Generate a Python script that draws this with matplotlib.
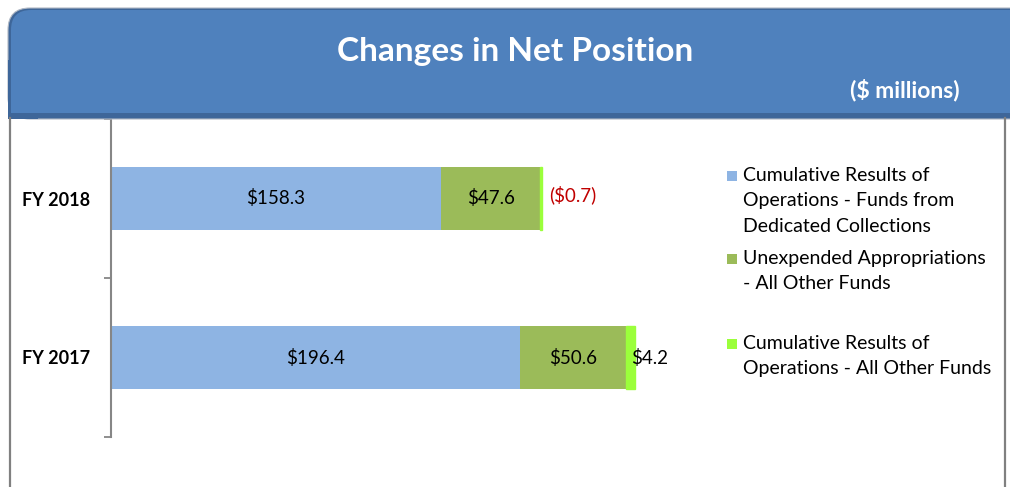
import matplotlib
matplotlib.use("Agg")
import matplotlib.pyplot as plt
from matplotlib.patches import FancyBboxPatch, Rectangle

plt.rcParams["font.family"] = ["Lato", "DejaVu Sans"]

# ---- data ($ millions) ----
years = ["FY 2018", "FY 2017"]
dedicated = [158.3, 196.4]        # cumulative results - dedicated collections
unexpended = [47.6, 50.6]         # unexpended appropriations - all other funds
other_funds = [-0.7, 4.2]         # cumulative results - all other funds
series_names = [
    "Cumulative Results of\nOperations - Funds from\nDedicated Collections",
    "Unexpended Appropriations\n- All Other Funds",
    "Cumulative Results of\nOperations - All Other Funds",
]
colors = ["#8EB4E3", "#9BBB59", "#9BFF3B"]

W, H = 1010, 487
fig = plt.figure(figsize=(W / 100, H / 100), dpi=100)

# ---- chart area ----
ax = fig.add_axes([111 / W, 1 - 437 / H, (700 - 111) / W, (437 - 119) / H])
ax.patch.set_alpha(0)
ypos = [1, 0]

left = [0.0, 0.0]
ax.barh(ypos, dedicated, height=0.4, color=colors[0], left=left)
left = [a + b for a, b in zip(left, dedicated)]
ax.barh(ypos, unexpended, height=0.4, color=colors[1], left=left)
left2 = [a + b for a, b in zip(left, unexpended)]
# negative sliver is drawn by size, like the spreadsheet did
ax.barh(ypos, [abs(v) for v in other_funds], height=0.4, color=colors[2],
        edgecolor=colors[2], linewidth=1.0, left=left2)

def fmt(v):
    return f"(${abs(v):.1f})" if v < 0 else f"${v:.1f}"

for i, y in enumerate(ypos):
    ax.text(dedicated[i] / 2, y, fmt(dedicated[i]), ha="center", va="center", fontsize=13.5)
    ax.text(left[i] + unexpended[i] / 2, y, fmt(unexpended[i]), ha="center", va="center", fontsize=13.5)
for i, (y, dx) in enumerate(zip(ypos, [7, -4])):
    v = other_funds[i]
    ax.annotate(fmt(v), (left2[i] + abs(v), y), xytext=(dx, 4 if v < 0 else 0),
                textcoords="offset pixels", ha="left", va="center", fontsize=13.5,
                color="#C00000" if v < 0 else "black")

ax.set_xlim(0, (700 - 111) / 2.085)
ax.set_ylim(-0.5, 1.5)
ax.set_yticks(ypos)
ax.set_yticklabels(years, fontsize=13, fontweight="bold")
ax.tick_params(axis="y", which="major", length=0, pad=15)
ax.set_yticks([-0.5, 0.5, 1.5], minor=True)
ax.tick_params(axis="y", which="minor", length=5, width=1.3, color="#868686")
ax.set_xticks([])
for s in ["top", "right", "bottom"]:
    ax.spines[s].set_visible(False)
ax.spines["left"].set_color("#868686")
ax.spines["left"].set_linewidth(1.5)

# ---- frame, banner and legend in pixel space ----
bg = fig.add_axes([0, 0, 1, 1], zorder=3)
bg.set_xlim(0, W)
bg.set_ylim(H, 0)
bg.axis("off")
bg.patch.set_alpha(0)

bg.plot([10, 10], [118, H], color="#808080", lw=1.6)
bg.plot([1005, 1005], [118, H], color="#808080", lw=1.6)

bg.add_patch(FancyBboxPatch((8, 8), 1040, 111, boxstyle="round,pad=0,rounding_size=22",
                            facecolor="#3E6699", edgecolor="#B0B8C4", lw=0.8))
bg.add_patch(Rectangle((8, 60), 30, 59, facecolor="#3E6699", edgecolor="none"))
bg.add_patch(FancyBboxPatch((11, 10), 1040, 103, boxstyle="round,pad=0,rounding_size=20",
                            facecolor="#4F81BD", edgecolor="none"))
bg.add_patch(Rectangle((11, 60), 30, 53, facecolor="#4F81BD", edgecolor="none"))
bg.text(515, 51, "Changes in Net Position", ha="center", va="center",
        fontsize=24, fontweight="bold", color="white")
bg.text(960, 90, "($ millions)", ha="right", va="center",
        fontsize=16.5, fontweight="bold", color="white")

for top, name, c in zip([176, 259, 344], series_names, colors):
    bg.add_patch(Rectangle((727, top - 5), 10, 10, facecolor=c, edgecolor="none"))
    bg.text(743, top - 9, name, ha="left", va="top", fontsize=14, linespacing=1.6)

fig.savefig("out.png", dpi=100)
